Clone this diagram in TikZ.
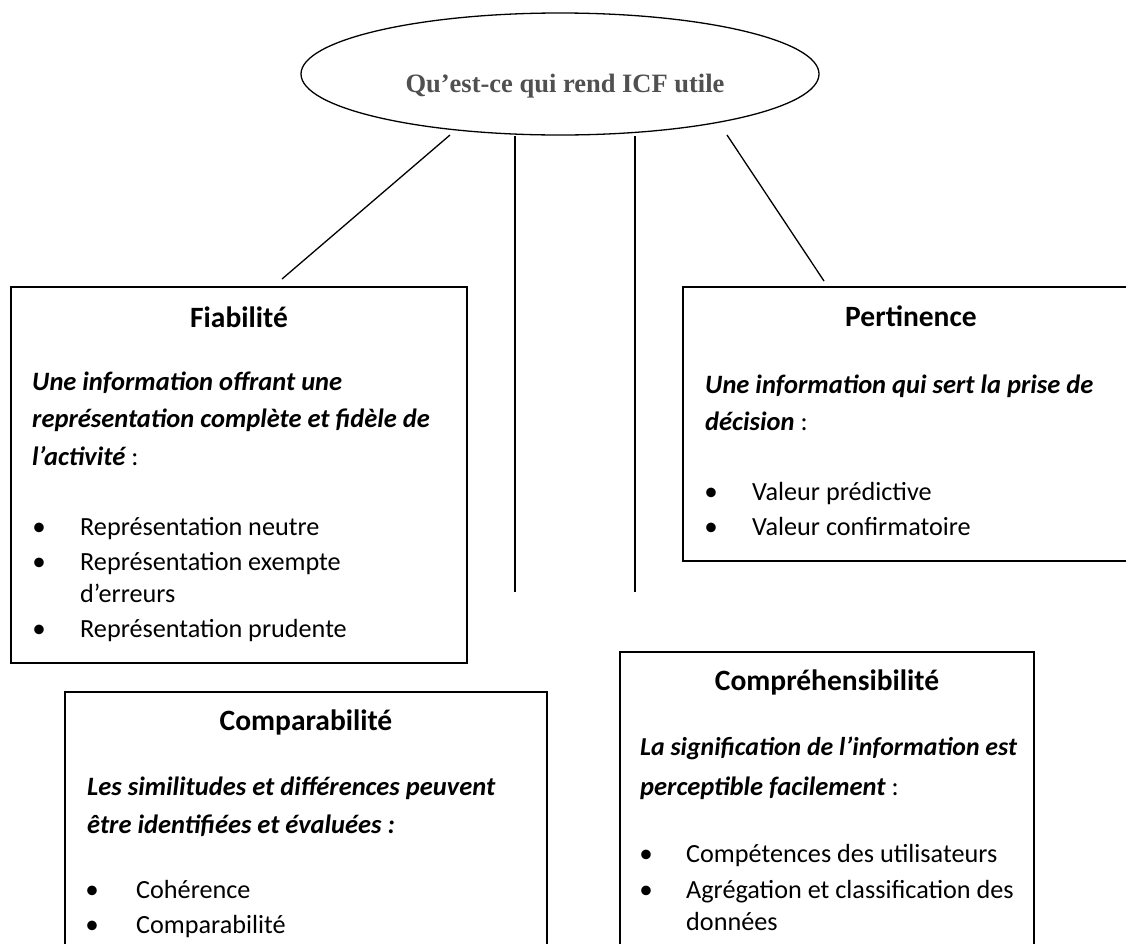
\documentclass[tikz,border=0pt]{standalone}
\usepackage{fontspec}
\setmainfont{Carlito}
\newfontfamily\titlefont{Liberation Serif}
\usetikzlibrary{shapes.geometric}
\definecolor{titlegray}{RGB}{80,80,80}
\begin{document}
\begin{tikzpicture}[x=1pt,y=-1pt,
  box/.style={draw, line width=1.6pt, anchor=north west, inner sep=0pt, outer sep=0pt},
  conn/.style={line width=1.3pt},
  ttl/.style={anchor=base, inner sep=0pt, font=\fontsize{29.5}{33}\selectfont\bfseries},
  itl/.style={anchor=base west, inner sep=0pt, font=\fontsize{26.5}{30}\selectfont\bfseries\itshape},
  itm/.style={anchor=base west, inner sep=0pt, font=\fontsize{26.2}{30}\selectfont},
  bul/.style={anchor=base, inner sep=0pt, font=\fontsize{27}{30}\selectfont}]
\useasboundingbox (0,0) rectangle (1126,943);
\clip (0,0) rectangle (1126,943);
\fill[white] (0,0) rectangle (1126,943);

% central ellipse
\node[draw, ellipse, line width=1.3pt, minimum width=518pt, minimum height=122pt, inner sep=0pt] (q) at (560,74) {};
\node[anchor=base, inner sep=0pt, text=titlegray, font=\titlefont\fontsize{26.5}{30}\selectfont\bfseries] (qt) at (565,92) {Qu’est-ce qui rend ICF utile};

% boxes
\node[box, minimum width=456pt, minimum height=376pt] (fia) at (11,287) {};
\node[box, minimum width=460pt, minimum height=274pt] (per) at (683,287) {};
\node[box, minimum width=482pt, minimum height=300pt] (cpa) at (65,692) {};
\node[box, minimum width=414pt, minimum height=340pt] (cpr) at (620,652) {};

% connectors
\coordinate (a1) at (450,135); \coordinate (b1) at (282,279);
\coordinate (a2) at (515,136); \coordinate (b2) at (515,592);
\coordinate (a3) at (635,136); \coordinate (b3) at (635,592);
\coordinate (a4) at (727,135); \coordinate (b4) at (824,281);
\draw[conn] (a1) -- (b1);
\draw[conn] (a2) -- (b2);
\draw[conn] (a3) -- (b3);
\draw[conn] (a4) -- (b4);

% Fiabilite
\node[ttl] (fiat) at (239,327) {Fiabilité};
\node[itl] (fia1) at (32,390) {Une information offrant une};
\node[itl] (fia2) at (32,427) {représentation complète et fidèle de};
\node[itl] (fia3) at (32,465) {l’activité\normalfont\ :};
\node[bul] (fiab1) at (39,535) {•};
\node[itm] (fiai1) at (80,535) {Représentation neutre};
\node[bul] (fiab2) at (39,570) {•};
\node[itm] (fiai2) at (80,570) {Représentation exempte};
\node[itm] (fiai2b) at (80,602) {d’erreurs};
\node[bul] (fiab3) at (39,637) {•};
\node[itm] (fiai3) at (80,637) {Représentation prudente};

% Pertinence
\node[ttl] (pert) at (911,326) {Pertinence};
\node[itl] (per1) at (705,393) {Une information qui sert la prise de};
\node[itl] (per2) at (705,430) {décision\normalfont\ :};
\node[bul] (perb1) at (711,500) {•};
\node[itm] (peri1) at (752,500) {Valeur prédictive};
\node[bul] (perb2) at (711,535) {•};
\node[itm] (peri2) at (752,535) {Valeur confirmatoire};

% Comparabilite
\node[ttl] (cpat) at (306,730) {Comparabilité};
\node[itl] (cpa1) at (87,795) {Les similitudes et différences peuvent};
\node[itl] (cpa2) at (87,833) {être identifiées et évaluées :};
\node[bul] (cpab1) at (92,898) {•};
\node[itm] (cpai1) at (136,898) {Cohérence};
\node[bul] (cpab2) at (92,933) {•};
\node[itm] (cpai2) at (136,933) {Comparabilité};

% Comprehensibilite
\node[ttl] (cprt) at (827,690) {Compréhensibilité};
\node[itl, font=\fontsize{25.8}{30}\selectfont\bfseries\itshape] (cpr1) at (640,755) {La signification de l’information est};
\node[itl] (cpr2) at (640,795) {perceptible facilement\normalfont\ :};
\node[bul] (cprb1) at (646,862) {•};
\node[itm] (cpri1) at (686,862) {Compétences des utilisateurs};
\node[bul] (cprb2) at (646,898) {•};
\node[itm] (cpri2) at (686,898) {Agrégation et classification des};
\node[itm] (cpri2b) at (686,930) {données};
\end{tikzpicture}
\end{document}
